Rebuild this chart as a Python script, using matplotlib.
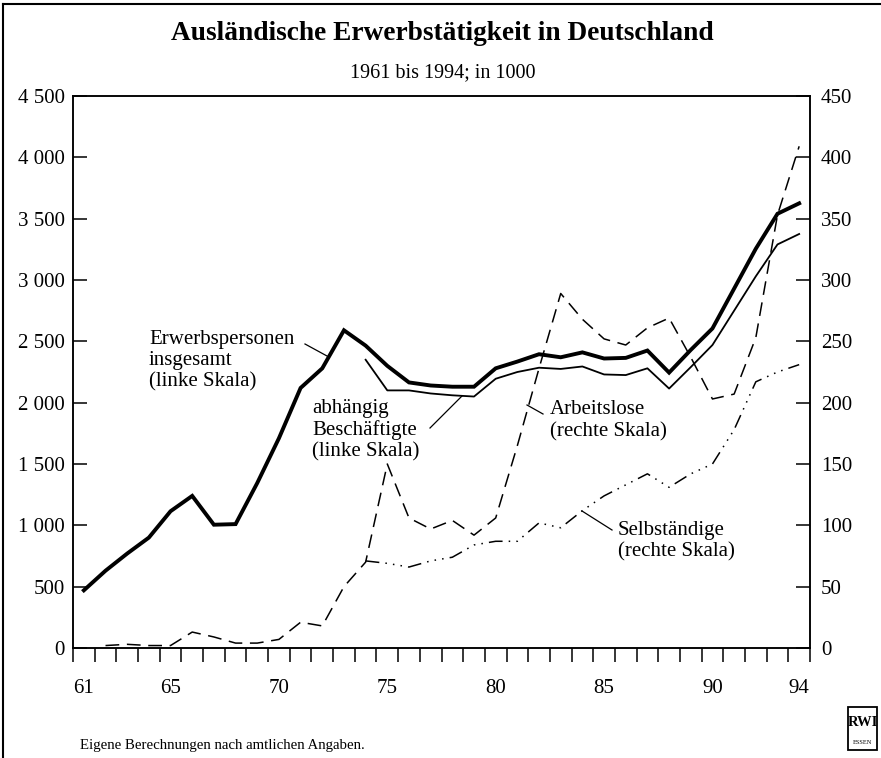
import matplotlib
matplotlib.use("Agg")
import matplotlib.pyplot as plt
from matplotlib.patches import Rectangle
from matplotlib.lines import Line2D
import numpy as np

plt.rcParams['font.family'] = ['Liberation Serif', 'DejaVu Serif']

# ---------------- data ----------------
years_all = list(range(1961, 1995))
erwerbspersonen = [470, 630, 770, 900, 1115, 1240, 1005, 1010, 1345, 1710, 2120, 2280,
                   2590, 2465, 2300, 2165, 2140, 2130, 2130, 2280, 2335, 2395, 2370,
                   2410, 2360, 2365, 2425, 2245, 2430, 2605, 2930, 3255, 3540, 3625]

years_abh = list(range(1974, 1995))
abhaengig = [2350, 2100, 2100, 2075, 2060, 2050, 2195, 2250, 2285, 2275, 2295, 2230,
             2225, 2280, 2115, 2290, 2470, 2750, 3030, 3290, 3375]

years_al = list(range(1962, 1995))
arbeitslose = [2, 3, 2, 2, 13, 9, 4, 4, 7, 21, 18, 50, 70, 150, 106, 97, 104, 92, 106,
               165, 228, 289, 268, 252, 247, 261, 269, 237, 203, 207, 253, 353, 409]

years_sb = list(range(1974, 1995))
selbstaendige = [71, 69, 66, 71, 74, 84, 87, 87, 102, 98, 112, 124, 133, 142, 131, 142,
                 150, 178, 217, 225, 231]

left_ticks = [0, 500, 1000, 1500, 2000, 2500, 3000, 3500, 4000, 4500]
left_labels = ["0", "500", "1 000", "1 500", "2 000", "2 500", "3 000", "3 500", "4 000", "4 500"]
right_ticks = [0, 50, 100, 150, 200, 250, 300, 350, 400, 450]
x_label_years = [1961, 1965, 1970, 1975, 1980, 1985, 1990, 1994]
x_labels = ["61", "65", "70", "75", "80", "85", "90", "94"]

title = "Ausländische Erwerbstätigkeit in Deutschland"
subtitle = "1961 bis 1994; in 1000"
footer = "Eigene Berechnungen nach amtlichen Angaben."

# ---------------- figure ----------------
W, H = 881, 758
fig = plt.figure(figsize=(W / 100, H / 100), dpi=100)
fig.patch.set_facecolor("white")

ax_l, ax_r_, ax_b, ax_t = 73, 810, 648, 96
ax = fig.add_axes([ax_l / W, 1 - ax_b / H, (ax_r_ - ax_l) / W, (ax_b - ax_t) / H])
ax2 = ax.twinx()

ax.set_xlim(1960.5, 1994.5)
ax.set_ylim(0, 4500)
ax2.set_ylim(0, 450)

ax.plot(years_all, erwerbspersonen, color="black", lw=2.8, solid_joinstyle="miter", zorder=5)
ax.plot(years_abh, abhaengig, color="black", lw=1.3, zorder=5)
ax2.plot(years_al, arbeitslose, color="black", lw=1.1, dashes=(9, 5))
ax2.plot(years_sb, selbstaendige, color="black", lw=1.1, dashes=(9, 4, 1, 4, 1, 4, 1, 4))

for a in (ax, ax2):
    for s in a.spines.values():
        s.set_linewidth(1.1)

# left ticks
ax.set_yticks(left_ticks)
ax.set_yticklabels(left_labels)
ax.tick_params(axis="y", direction="in", length=10, width=1.1, labelsize=15, pad=6)
ax2.set_yticks(right_ticks)
ax2.set_yticklabels([str(v) for v in right_ticks])
ax2.tick_params(axis="y", direction="in", length=10, width=1.1, labelsize=15, pad=8)

# x ticks: boundaries as minor ticks, labels at year centres
ax.set_xticks(np.arange(1960.5, 1995.0, 1.0), minor=True)
ax.set_xticks(x_label_years)
ax.set_xticklabels(x_labels)
ax.tick_params(axis="x", which="minor", direction="out", length=10, width=1.1)
ax.tick_params(axis="x", which="major", length=0, labelsize=15, pad=22)

# ---------------- annotations ----------------
fs_ann = 15
def label(x, y, s, ls=1.15):
    fig.text(x / W, 1 - y / H, s, fontsize=fs_ann, ha="left", va="top", linespacing=ls)

def leader(x0, y0, x1, y1):
    fig.add_artist(Line2D([x0 / W, x1 / W], [1 - y0 / H, 1 - y1 / H], color="black", lw=0.9))

label(149, 330, "Erwerbspersonen\ninsgesamt\n(linke Skala)")
leader(305, 344, 327, 356)
label(312, 399, "abhängig\nBeschäftigte\n(linke Skala)")
leader(430, 428, 462, 396)
label(550, 400, "Arbeitslose\n(rechte Skala)", ls=1.25)
leader(527, 405, 543, 414)
label(618, 521, "Selbständige\n(rechte Skala)")
leader(582, 511, 612, 530)

# titles
fig.text(442 / W, 1 - 33 / H, title, fontsize=19.7, fontweight="bold", ha="center", va="center")
fig.text(443 / W, 1 - 73 / H, subtitle, fontsize=14.5, ha="center", va="center")
fig.text(80 / W, 1 - 746 / H, footer, fontsize=10.7, ha="left", va="center")

# outer frame (left and top)
fig.add_artist(Line2D([2.5 / W, 2.5 / W], [0, 1 - 4 / H], color="black", lw=1.5))
fig.add_artist(Line2D([2.5 / W, 1.0], [1 - 4 / H, 1 - 4 / H], color="black", lw=1.5))

# RWI logo
fig.add_artist(Rectangle((848 / W, 1 - 750 / H), 29 / W, 43 / H, transform=fig.transFigure,
                         fill=False, edgecolor="black", lw=1.3))
fig.text(862.5 / W, 1 - 722 / H, "RWI", fontsize=10.5, fontweight="bold", ha="center", va="center")
fig.text(862.5 / W, 1 - 742 / H, "ESSEN", fontsize=4.5, ha="center", va="center")

fig.savefig("out.png", dpi=100)
